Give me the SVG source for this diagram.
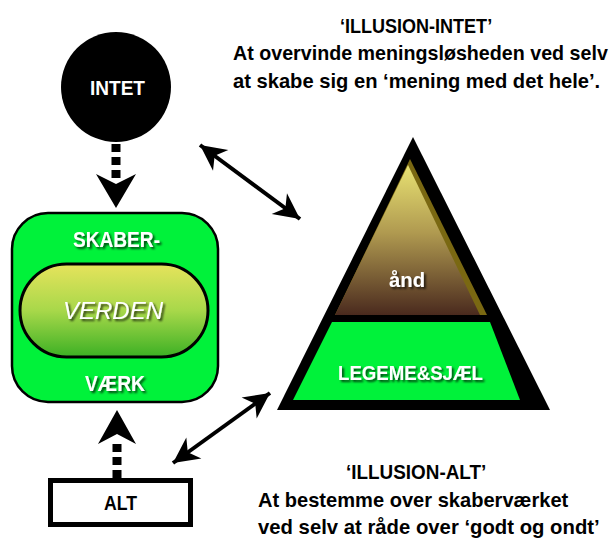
<svg xmlns="http://www.w3.org/2000/svg" width="614" height="538" viewBox="0 0 614 538">
<defs>
<style>
.t{font-family:"Liberation Sans",Arial,sans-serif;font-weight:bold;}
.w{fill:#fff;}
.k{fill:#000;}
.dot{stroke:#000;stroke-width:9;stroke-dasharray:8 5;fill:none;}
.dbl{stroke:#000;stroke-width:4;fill:none;marker-start:url(#ah);marker-end:url(#ah);}
</style>
<marker id="ah" markerUnits="userSpaceOnUse" markerWidth="30" markerHeight="30" viewBox="-26 -13 28 26" refX="0" refY="0" orient="auto-start-reverse">
<path d="M0,0 L-24,-12 L-17,0 L-24,12 Z" fill="#000"/>
</marker>
<filter id="sh" x="-20%" y="-30%" width="150%" height="170%">
<feDropShadow dx="2" dy="2" stdDeviation="1.2" flood-color="#000" flood-opacity="0.7"/>
</filter>
<linearGradient id="gv" x1="0" y1="0" x2="0" y2="1">
<stop offset="0" stop-color="#e6e35c"/>
<stop offset="0.5" stop-color="#a8d84a"/>
<stop offset="1" stop-color="#3cb024"/>
</linearGradient>
<linearGradient id="gp" x1="0" y1="0" x2="0" y2="1">
<stop offset="0" stop-color="#e8e272"/>
<stop offset="0.45" stop-color="#b09a50"/>
<stop offset="1" stop-color="#4a2a1e"/>
</linearGradient>
</defs>

<g id="connectors">
<line class="dot" x1="116" y1="144" x2="116" y2="182"/>
<path d="M116,208 L96,174 L116,184 L136,174 Z" fill="#000"/>
<line class="dot" x1="117" y1="478" x2="117" y2="440"/>
<path d="M117,410 L98,444 L117,434 L136,444 Z" fill="#000"/>
<line class="dbl" x1="200" y1="145" x2="300" y2="219"/>
<line class="dbl" x1="270" y1="393" x2="173" y2="463"/>
</g>

<g id="intet">
<circle cx="116" cy="87" r="55" fill="#000"/>
<text class="t w" x="117.5" y="95" font-size="21" text-anchor="middle" textLength="55" lengthAdjust="spacingAndGlyphs">INTET</text>
</g>

<g id="skaberverk">
<rect x="12" y="213" width="206" height="189" rx="36" fill="#00f23a" stroke="#000" stroke-width="2.5"/>
<text class="t w" x="116.5" y="247" font-size="22" text-anchor="middle" textLength="87" lengthAdjust="spacingAndGlyphs" filter="url(#sh)">SKABER-</text>
<text class="t w" x="115" y="391" font-size="22" text-anchor="middle" textLength="60" lengthAdjust="spacingAndGlyphs" filter="url(#sh)">VÆRK</text>
</g>

<g id="verden">
<rect x="20" y="264" width="188" height="93" rx="46.5" fill="url(#gv)" stroke="#000" stroke-width="3"/>
<text x="113" y="319" font-family="Liberation Sans, Arial, sans-serif" font-style="italic" font-size="23" text-anchor="middle" textLength="100" lengthAdjust="spacingAndGlyphs" class="w" filter="url(#sh)">VERDEN</text>
</g>

<g id="pyramide">
<polygon points="413,137 277,410 550,410" fill="#000"/>
<polygon points="410,159 335,315 487,315" fill="#7a6812"/>
<polygon points="408,165 335,315 480,315" fill="url(#gp)"/>
<polygon points="332,322 490,322 520,400 293,400" fill="#00f23a"/>
<text class="t w" x="407" y="287" font-size="21" text-anchor="middle" textLength="36" lengthAdjust="spacingAndGlyphs" filter="url(#sh)">ånd</text>
<text class="t w" x="410.5" y="380" font-size="21" text-anchor="middle" textLength="145" lengthAdjust="spacingAndGlyphs" filter="url(#sh)">LEGEME&amp;SJÆL</text>
</g>

<g id="alt">
<rect x="50.5" y="480.5" width="140" height="44" fill="#fff" stroke="#000" stroke-width="5"/>
<text class="t k" x="120.5" y="510" font-size="21" text-anchor="middle" textLength="33" lengthAdjust="spacingAndGlyphs">ALT</text>
</g>

<g id="illusion-intet">
<text class="t k" transform="translate(340,33) scale(0.85,1)" x="0" y="0" font-size="21" textLength="179" lengthAdjust="spacingAndGlyphs">‘ILLUSION-INTET’</text>
<text class="t k" transform="translate(233,60) scale(0.85,1)" x="0" y="0" font-size="21" textLength="441" lengthAdjust="spacingAndGlyphs">At overvinde meningsløsheden ved selv</text>
<text class="t k" transform="translate(233,88) scale(0.85,1)" x="0" y="0" font-size="21" textLength="432" lengthAdjust="spacingAndGlyphs">at skabe sig en ‘mening med det hele’.</text>
</g>

<g id="illusion-alt">
<text class="t k" transform="translate(346,479) scale(0.85,1)" x="0" y="0" font-size="21" textLength="165" lengthAdjust="spacingAndGlyphs">‘ILLUSION-ALT’</text>
<text class="t k" transform="translate(258,507) scale(0.85,1)" x="0" y="0" font-size="21" textLength="365" lengthAdjust="spacingAndGlyphs">At bestemme over skaberværket</text>
<text class="t k" transform="translate(258,534) scale(0.85,1)" x="0" y="0" font-size="21" textLength="402" lengthAdjust="spacingAndGlyphs">ved selv at råde over ‘godt og ondt’</text>
</g>
</svg>
